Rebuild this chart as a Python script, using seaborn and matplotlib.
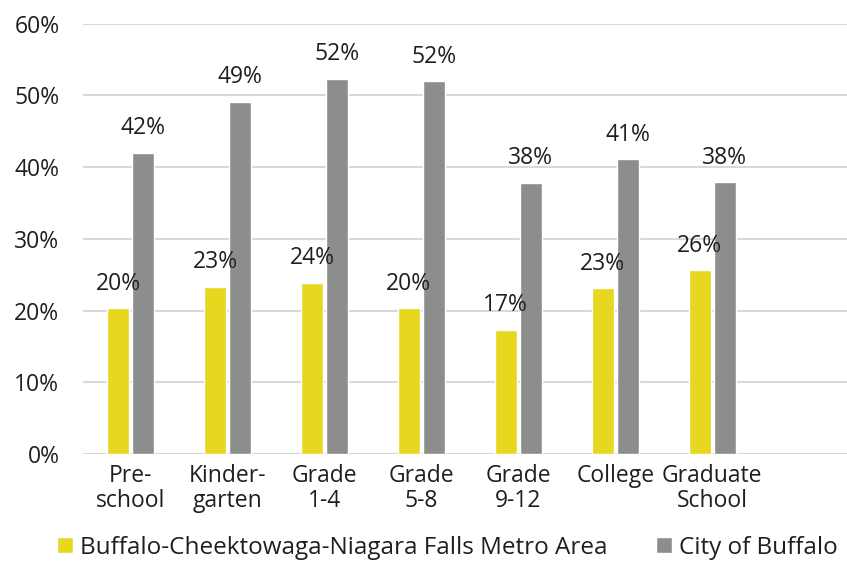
import matplotlib
matplotlib.use("Agg")
import matplotlib.pyplot as plt
import seaborn as sns
import pandas as pd
from matplotlib.ticker import FuncFormatter

categories = ["Pre-\nschool", "Kinder-\ngarten", "Grade\n1-4", "Grade\n5-8",
              "Grade\n9-12", "College", "Graduate\nSchool"]
series_names = ["Buffalo-Cheektowaga-Niagara Falls Metro Area", "City of Buffalo"]
metro_values = [20.3, 23.3, 23.9, 20.3, 17.3, 23.1, 25.6]
city_values = [42.0, 49.1, 52.3, 52.0, 37.8, 41.1, 37.9]
metro_labels = ["20%", "23%", "24%", "20%", "17%", "23%", "26%"]
city_labels = ["42%", "49%", "52%", "52%", "38%", "41%", "38%"]
y_ticks = [0, 10, 20, 30, 40, 50, 60]

df = pd.DataFrame({
    "category": categories * 2,
    "series": [series_names[0]] * len(categories) + [series_names[1]] * len(categories),
    "value": metro_values + city_values,
})

sns.set_theme(style="white")
plt.rcParams["font.family"] = ["Open Sans", "DejaVu Sans"]
text_color = "#1f1f1f"
fs = 16.5

fig = plt.figure(figsize=(8.47, 5.61), dpi=100)
ax = fig.add_axes([0.098, 0.1907, 0.902, 0.767])

palette = {series_names[0]: "#E8D71F", series_names[1]: "#8B8E8C"}
sns.barplot(data=df, x="category", y="value", hue="series", order=categories,
            hue_order=series_names, palette=palette, width=0.515, gap=0.12,
            saturation=1, ax=ax, legend=True)

for cont, labs in zip(ax.containers, [metro_labels, city_labels]):
    ax.bar_label(cont, labels=labs, padding=9, fontsize=fs, color=text_color)

ax.set_ylim(0, 60)
ax.set_yticks(y_ticks)
ax.yaxis.set_major_formatter(FuncFormatter(lambda v, p: f"{v:.0f}%"))
ax.set_xlim(-0.49, 7.39)
ax.grid(axis="y", color="#D9D9D9", linewidth=1.5)
ax.set_axisbelow(True)
for s in ax.spines.values():
    s.set_visible(False)
ax.axhline(0, color="#D9D9D9", linewidth=1.5, zorder=0.5)
ax.set_xlabel("")
ax.set_ylabel("")
ax.tick_params(axis="both", length=0, labelsize=fs, colors=text_color)
ax.tick_params(axis="x", pad=7)
ax.tick_params(axis="y", pad=17)
for t in ax.get_xticklabels():
    t.set_linespacing(1.05)

leg = ax.legend(loc="center", bbox_to_anchor=(0.477, -0.218), ncol=2, frameon=False,
                fontsize=17.5, handlelength=0.65, handleheight=0.65, handletextpad=0.3,
                columnspacing=2.0, labelcolor=text_color, borderaxespad=0,
                borderpad=0)

fig.savefig("out.png", dpi=100)
